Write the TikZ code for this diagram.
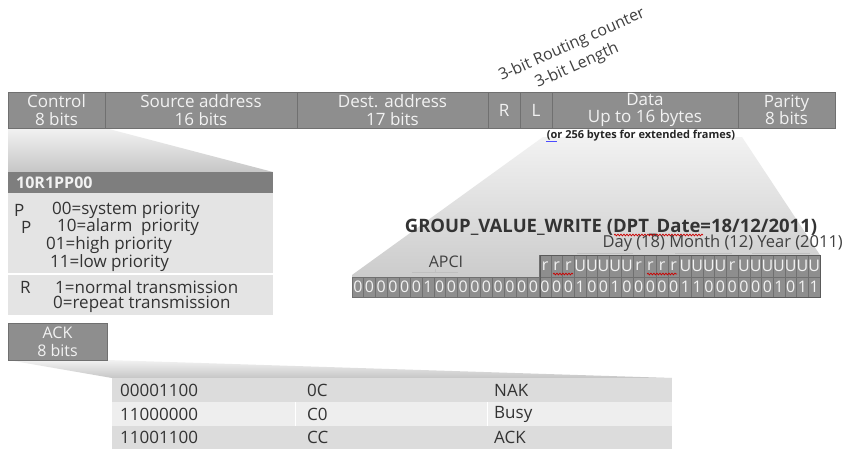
\documentclass[tikz,border=0pt]{standalone}
\usepackage{fontspec}
\setmainfont{Open Sans}
\usetikzlibrary{decorations.pathmorphing}
\definecolor{barfill}{HTML}{8E8E8E}
\definecolor{barline}{HTML}{707070}
\definecolor{bartext}{HTML}{F2F2F2}
\definecolor{hdr}{HTML}{7E7E7E}
\definecolor{panel}{HTML}{E4E4E4}
\definecolor{txt}{HTML}{333333}
\definecolor{rowa}{HTML}{DCDCDC}
\definecolor{rowb}{HTML}{EEEEEE}
\definecolor{fun1}{HTML}{F2F2F2}
\definecolor{fun2}{HTML}{C6C6C6}
\begin{document}
\begin{tikzpicture}[x=1pt,y=-1pt,
  field/.style={draw=barline, line width=1pt, fill=barfill, text=bartext,
    font=\fontsize{17}{17.5}\selectfont, align=center, inner sep=0pt, minimum height=36pt},
  bitcell/.style={draw=barline, line width=0.6pt, fill=barfill, text=bartext,
    font=\fontsize{16}{16}\selectfont, inner sep=0pt, minimum width=11.7pt},
  plain/.style={text=txt, inner sep=0pt, font=\fontsize{17}{17}\selectfont},
  rowbox/.style={draw=none, inner sep=0pt, minimum height=24pt, anchor=north west},
  squig/.style={red!80!black, line width=0.7pt, decorate, decoration={snake, amplitude=0.9pt, segment length=3pt}},
  brk/.style={draw=black!25, line width=0.6pt},
  slanted/.style={text=black!75, rotate=24, inner sep=0pt, font=\fontsize{16}{16}\selectfont}
]
\useasboundingbox (0,0) rectangle (844,450);
\fill[white] (0,0) rectangle (844,450);

% ---------- funnels ----------
\shade[top color=fun1, bottom color=fun2] (8,128) -- (105,128) -- (273,172) -- (8,172) -- cycle;
\shade[top color=fun1, bottom color=fun2] (543,137) -- (742,137) -- (820,255) -- (820,297) -- (352,297) -- (352,275) -- cycle;
\shade[top color=fun1, bottom color=fun2] (8,360) -- (107,360) -- (672,378) -- (112,378) -- cycle;

% ---------- top frame bar ----------
\node[field, minimum width=97pt]  (ctrl) at (56.5,110) {Control\\8 bits};
\node[field, minimum width=192pt] (src)  at (201,110)  {Source address\\16 bits};
\node[field, minimum width=191pt] (dst)  at (392.5,110) {Dest. address\\17 bits};
\node[field, minimum width=32pt]  (rf)   at (504,110)  {R};
\node[field, minimum width=32pt]  (lf)   at (536,110)  {L};
\node[field, minimum width=186pt] (data) at (645,110)  {Data\\Up to 16 bytes};
\node[field, minimum width=97pt]  (par)  at (786.5,110) {Parity\\8 bits};

\node[slanted] (rc) at (572,45) {3-bit Routing counter};
\node[slanted] (lenl) at (577,66) {3-bit Length};

\node[text=black!85, inner sep=0pt, font=\fontsize{11}{11}\selectfont\bfseries] (ext) at (641,136) {(or 256 bytes for extended frames)};
\draw[blue!70, line width=1.4pt] (546,141.5) -- (557,141.5);

% ---------- control detail ----------
\node[rowbox, fill=hdr, minimum width=265pt, minimum height=21pt] (hdrbox) at (8,172) {};
\node[anchor=west, text=bartext, inner sep=0pt, font=\fontsize{16}{16}\selectfont\bfseries] (hdrtxt) at (16,182.5) {10R1PP00};
\node[rowbox, fill=panel, minimum width=265pt, minimum height=80pt] (pp) at (8,193) {};
\node[rowbox, fill=panel, minimum width=265pt, minimum height=40pt] (rp) at (8,275) {};

\node[plain, anchor=west] (p1)  at (14,210) {P};
\node[plain, anchor=west] (p1t) at (52,210) {00=system priority};
\node[plain, anchor=west] (p2)  at (21,227) {P};
\node[plain, anchor=west] (p2t) at (57,227) {10=alarm\ \ priority};
\node[plain, anchor=west] (p3t) at (46,245) {01=high priority};
\node[plain, anchor=west] (p4t) at (50,263) {11=low priority};
\node[plain, anchor=west] (r1)  at (20,287) {R};
\node[plain, anchor=west] (r1t) at (55,287) {1=normal transmission};
\node[plain, anchor=west] (r2t) at (53,304) {0=repeat transmission};

% ---------- data detail ----------
\node[text=black!80, inner sep=0pt, font=\fontsize{18.5}{18.5}\selectfont\bfseries] (gvw) at (611,227) {GROUP\_VALUE\_WRITE (DPT\_Date=18/12/2011)};
\draw[squig] (614,235) -- (703,235);
\node[text=black!75, anchor=east, inner sep=0pt, font=\fontsize{16.5}{16.5}\selectfont] (dmy) at (843,243) {Day (18) Month (12) Year (2011)};
\node[text=black!75, inner sep=0pt, font=\fontsize{16}{16}\selectfont] (apci) at (446,262) {APCI};
\draw[brk] (412,272) -- (458,272);
\draw[brk] (435,272) -- (435,269);
\draw[brk] (577,253) -- (633,253);
\draw[brk] (675,253) -- (732,253);
\draw[brk] (752,253) -- (810,253);

\foreach \b [count=\i from 0] in {0,0,0,0,0,0,1,0,0,0,0,0,0,0,0,0,0,0,0,1,0,0,1,0,0,0,0,0,1,1,0,0,0,0,0,0,1,0,1,1}
  \node[bitcell, minimum height=20pt] (lo\i) at ({357.85+11.7*\i},287) {\b};
\foreach \u [count=\i from 0] in {r,r,r,U,U,U,U,U,r,r,r,r,U,U,U,U,r,U,U,U,U,U,U,U}
  \node[bitcell, minimum height=22pt] (up\i) at ({545.05+11.7*\i},266) {\u};
\draw[barline!80!black, line width=1pt] (540,255) rectangle (820,297);
\draw[squig] (553,274) -- (573,274);
\draw[squig] (647,274) -- (677,274);

% ---------- ACK ----------
\node[field, minimum width=99pt, minimum height=37pt, font=\fontsize{16}{18}\selectfont] (ack) at (57.5,341.5) {ACK\\8 bits};

\node[rowbox, fill=rowa, minimum width=560pt] (row1) at (112,378) {};
\node[rowbox, fill=rowb, minimum width=560pt] (row2) at (112,402) {};
\node[rowbox, fill=rowa, minimum width=560pt, minimum height=23pt] (row3) at (112,426) {};
\draw[white, line width=0.8pt] (295,402) -- (295,426);
\draw[white, line width=0.8pt] (487,402) -- (487,426);

\node[plain, anchor=west] (a1) at (120,390) {00001100};
\node[plain, anchor=west] (b1) at (307,390) {0C};
\node[plain, anchor=west] (c1) at (494,390) {NAK};
\node[plain, anchor=west] (a2) at (120,414) {11000000};
\node[plain, anchor=west] (b2) at (307,414) {C0};
\node[plain, anchor=west] (c2) at (494,414) {Busy};
\node[plain, anchor=west] (a3) at (120,437.5) {11001100};
\node[plain, anchor=west] (b3) at (307,437.5) {CC};
\node[plain, anchor=west] (c3) at (494,437.5) {ACK};
\end{tikzpicture}
\end{document}
